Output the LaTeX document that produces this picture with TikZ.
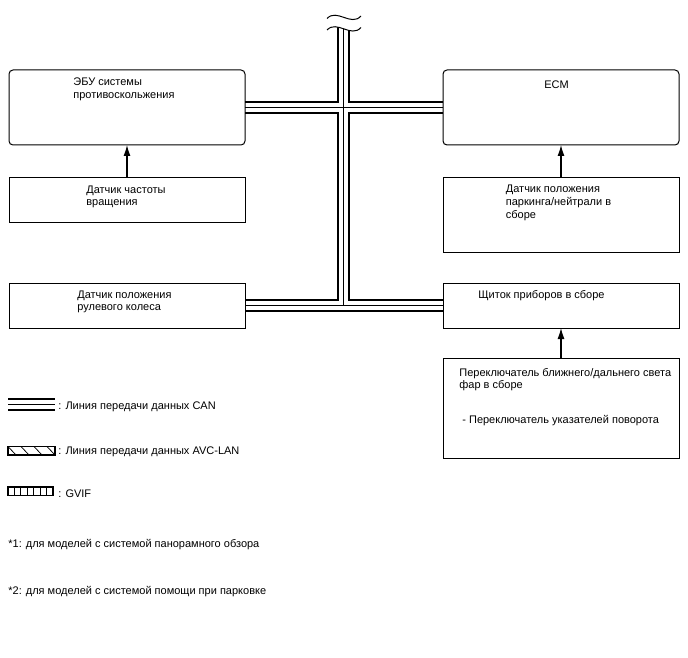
\documentclass[tikz,border=0pt]{standalone}
\usepackage{fontspec}
\setmainfont{Liberation Sans}
\usetikzlibrary{arrows.meta,backgrounds}
\tikzset{every picture/.style={line width=0.75pt}}
\tikzset{
  unit/.style={draw, line width=1pt, minimum width=236pt, inner sep=0pt, outer sep=0pt},
  ecu/.style={unit, rounded corners=4pt},
  txt/.style={font=\fontsize{11}{12.5}\selectfont, inner sep=0pt, align=left, anchor=base west},
  sig/.style={line width=1.2pt, -{Latex[length=11pt,width=7pt]}},
}

\begin{document}
\begin{tikzpicture}[x=1pt,y=-1pt]
    \useasboundingbox (0,0) rectangle (688,658);

    % Units
    \node[ecu, minimum height=75pt] (ebu) at (127,107.5) {};
    \node[ecu, minimum height=75pt] (ecm) at (561,107.5) {};
    \node[unit, minimum height=45pt] (speed) at (127,199.5) {};
    \node[unit, minimum height=75pt] (pnsw) at (561,214.5) {};
    \node[unit, minimum height=45pt] (steer) at (127,305.5) {};
    \node[unit, minimum height=45pt] (meter) at (561,305.5) {};
    \node[unit, minimum height=100pt] (lightsw) at (561,408) {};

    % Unit labels (base = last line)
    \node[txt] (ebu-l) at (73,98.5) {ЭБУ системы\\противоскольжения};
    \node[txt] (ecm-l) at (544,89) {ECM};
    \node[txt] (speed-l) at (86,205.5) {Датчик частоты\\вращения};
    \node[txt] (pnsw-l) at (505.5,218) {Датчик положения\\паркинга/нейтрали в\\сборе};
    \node[txt] (steer-l) at (77,310.5) {Датчик положения\\рулевого колеса};
    \node[txt] (meter-l) at (478,298) {Щиток приборов в сборе};
    \node[txt] (lightsw-l) at (459,423) {Переключатель ближнего/дальнего света\\фар в сборе\\[22pt]\hspace{3pt}- Переключатель указателей поворота};

    % Signal lines
    \draw[sig] (speed.north) -- (ebu.south);
    \draw[sig] (pnsw.north) -- (ecm.south);
    \draw[sig] (lightsw.north) -- (meter.south);

    % CAN bus
    \coordinate (bustop) at (343.5,22);
    \coordinate (busbot) at (steer.east -| bustop);
    \begin{scope}[on background layer]
      \foreach \w/\c in {13pt/black,9pt/white,0.8pt/black}{
        \draw[line width=\w,\c] (ebu.east) -- (ecm.west);
        \draw[line width=\w,\c] (steer.east) -- (meter.west);
        \draw[line width=\w,\c] (bustop) -- (busbot);
      }
    \end{scope}

    % Break mark
    \fill[white] (327,30) .. controls (337,19.5) and (351,38.5) .. (361,27.5) -- (361,20) -- (327,20) -- cycle;
    \draw[line width=1pt] (327,18.5) .. controls (337,8) and (351,27) .. (361,16);
    \draw[line width=1pt] (327,30) .. controls (337,19.5) and (351,38.5) .. (361,27.5);

    % Legend
    \foreach \w/\c in {13pt/black,9pt/white,0.8pt/black}
      \draw[line width=\w,\c] (8,404.5) -- (55,404.5);
    \node[txt] (can-l) at (58,409) {: Линия передачи данных CAN};

    \draw[line width=1.2pt] (8,446.5) rectangle (55,455);
    \foreach \x in {8,21,34,47}
      \draw (\x,446.5) -- (\x+8,455);
    \node[txt] (avc-l) at (58,454) {: Линия передачи данных AVC-LAN};

    \draw[line width=1.2pt] (8,487) rectangle (53,495.5);
    \foreach \i in {1,...,6}
      \draw (8+\i*6.43,487) -- (8+\i*6.43,495.5);
    \node[txt] (gvif-l) at (58,497) {: GVIF};

    % Notes
    \node[txt] (note1) at (8,547) {*1: для моделей с системой панорамного обзора};
    \node[txt] (note2) at (8,594) {*2: для моделей с системой помощи при парковке};
\end{tikzpicture}
\end{document}
